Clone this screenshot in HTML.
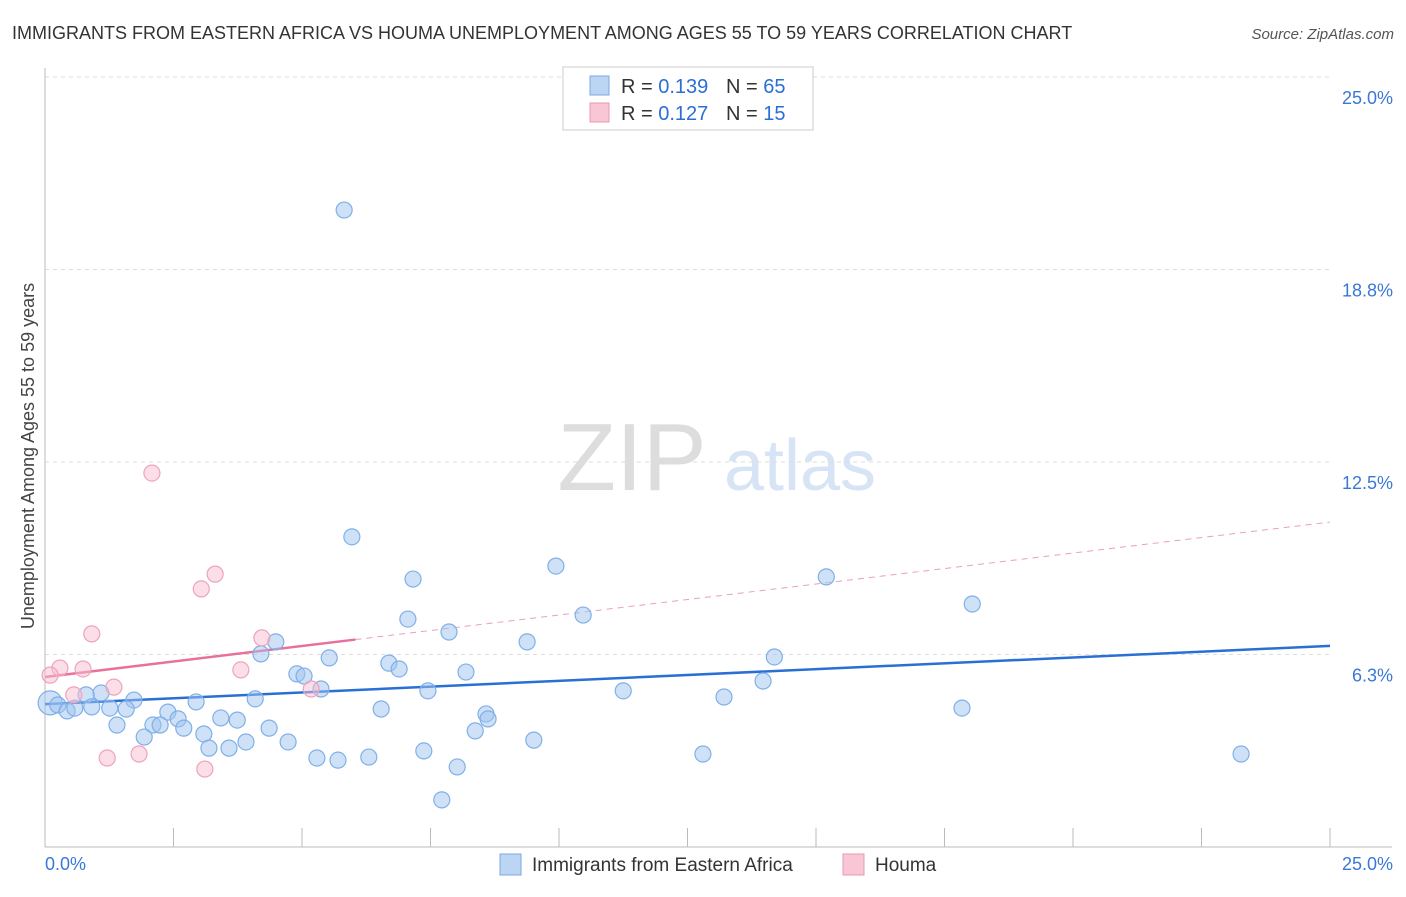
<!DOCTYPE html>
<html><head><meta charset="utf-8"><style>
body{margin:0;background:#fff;font-family:"Liberation Sans",sans-serif;}
svg text{font-family:"Liberation Sans",sans-serif;}
</style></head><body>
<svg id="chart" width="1406" height="892" xmlns="http://www.w3.org/2000/svg">
<text x="12" y="39" font-size="18" fill="#333">IMMIGRANTS FROM EASTERN AFRICA VS HOUMA UNEMPLOYMENT AMONG AGES 55 TO 59 YEARS CORRELATION CHART</text>
<text x="1394" y="39" font-size="15" fill="#555" text-anchor="end" font-style="italic">Source: ZipAtlas.com</text>
<g>
<text x="632" y="490" font-size="96" fill="#ddd" text-anchor="middle" font-family="Liberation Serif,serif">ZIP</text>
<text x="800" y="490" font-size="72" fill="#d6e4f5" text-anchor="middle">atlas</text>
</g>
<g id="grid"></g><g id="axes"></g><g id="trends"></g><g id="pts"></g>
<text transform="translate(34,456) rotate(-90)" font-size="18" fill="#444" text-anchor="middle">Unemployment Among Ages 55 to 59 years</text>
<g>
<rect x="563" y="67" width="250" height="63" fill="#fff" stroke="#ccc"/>
<rect x="590" y="76" width="19" height="19" fill="#bcd5f5" stroke="#7aa8e0"/>
<rect x="590" y="103" width="19" height="19" fill="#f9c6d5" stroke="#e899b0"/>
<text x="621" y="93" font-size="20" fill="#333">R = <tspan fill="#2a6fd6">0.139</tspan></text>
<text x="726" y="93" font-size="20" fill="#333">N = <tspan fill="#2a6fd6">65</tspan></text>
<text x="621" y="120" font-size="20" fill="#333">R = <tspan fill="#2a6fd6">0.127</tspan></text>
<text x="726" y="120" font-size="20" fill="#333">N = <tspan fill="#2a6fd6"> 15</tspan></text>
</g>
<g>
<rect x="500" y="854" width="21" height="21" fill="#bcd5f5" stroke="#7aa8e0"/>
<text x="532" y="871" font-size="19" fill="#333">Immigrants from Eastern Africa</text>
<rect x="843" y="854" width="21" height="21" fill="#f9c6d5" stroke="#e899b0"/>
<text x="875" y="871" font-size="19" fill="#333">Houma</text>
</g>
</svg>
<script>
const yTicks=[6.25,12.5,18.75,25];
const yTickLabels=["6.3%","12.5%","18.8%","25.0%"];
const xTicks=[0,2.5,5,7.5,10,12.5,15,17.5,20,22.5,25];
const blueX=[5.82,5.97,9.94,7.16,15.20,18.04,10.47,7.06,7.86,4.49,9.38,4.20,5.53,14.19,6.69,6.89,4.90,5.04,8.19,5.37,7.45,11.25,13.97,13.21,4.09,2.94,1.73,1.09,0.80,0.10,0.25,0.43,0.58,0.91,1.26,1.58,6.54,8.58,8.62,17.84,2.39,2.59,3.42,3.74,2.10,2.24,1.40,2.70,4.36,8.37,3.09,1.93,3.91,4.73,9.51,3.19,3.58,7.37,5.29,5.70,6.30,12.80,8.02,23.27,7.72];
const blueY=[20.68,10.07,9.12,8.70,8.77,7.89,7.53,7.40,6.98,6.66,6.66,6.27,6.14,6.17,5.97,5.78,5.62,5.55,5.68,5.13,5.07,5.07,5.39,4.87,4.81,4.71,4.77,5.00,4.94,4.68,4.61,4.42,4.51,4.55,4.51,4.48,4.48,4.32,4.16,4.51,4.38,4.16,4.19,4.12,3.96,3.96,3.96,3.86,3.86,3.77,3.67,3.57,3.41,3.41,3.47,3.21,3.21,3.12,2.89,2.82,2.92,3.02,2.60,3.02,1.53];
const pinkX=[2.08,3.31,3.04,0.91,4.22,3.81,0.29,0.74,0.10,1.34,5.18,0.56,1.21,1.83,3.11];
const pinkY=[12.14,8.86,8.38,6.92,6.79,5.75,5.81,5.78,5.58,5.19,5.13,4.94,2.89,3.02,2.53];
const blueTrend=[4.64,6.53];
const pinkTrend=[5.52,10.55];
const pinkSolidEnd=6.04;
const NS="http://www.w3.org/2000/svg";
const X=v=>45+v/25*1285, Y=v=>847-v*30.8;
function mk(tag,attrs,parent){const e=document.createElementNS(NS,tag);for(const k in attrs)e.setAttribute(k,attrs[k]);document.getElementById(parent).appendChild(e);return e;}
let g=mk('line',{x1:45,x2:1330,y1:Y(25),y2:Y(25),stroke:'#ddd','stroke-dasharray':'4,4'},'grid');


yTicks.forEach((t,i)=>{
 const l=mk('line',{x1:45,x2:1330,y1:Y(t),y2:Y(t),stroke:'#ddd','stroke-dasharray':'4,4'},'grid');
 
 
 const tx=mk('text',{x:1393,y:Y(t)+27,'font-size':18,fill:'#3a78d6','text-anchor':'end'},'axes');
 tx.textContent=yTickLabels[i];
 
 
});
let a=mk('line',{x1:45,x2:45,y1:68,y2:847,stroke:'#bbb'},'axes');


a=mk('line',{x1:45,x2:1392,y1:847,y2:847,stroke:'#bbb'},'axes');


xTicks.forEach(t=>{const l=mk('line',{x1:X(t),x2:X(t),y1:828,y2:847,stroke:'#bbb'},'axes');
 
 });
let t0=mk('text',{x:45,y:870,'font-size':18,fill:'#3a78d6'},'axes');t0.textContent='0.0%';


let t1=mk('text',{x:1393,y:870,'font-size':18,fill:'#3a78d6','text-anchor':'end'},'axes');t1.textContent='25.0%';


blueX.forEach((x,i)=>{const c=mk('circle',{cx:X(x),cy:Y(blueY[i]),r:(i==29?12:8),fill:'rgba(160,196,240,0.5)',stroke:'#7fb0e8','stroke-width':1.2},'pts');
 
 });
pinkX.forEach((x,i)=>{const c=mk('circle',{cx:X(x),cy:Y(pinkY[i]),r:8,fill:'rgba(248,190,208,0.5)',stroke:'#eea3bb','stroke-width':1.2},'pts');
 
 });
const pAt=x=>pinkTrend[0]+(pinkTrend[1]-pinkTrend[0])*x/25;
let tl=mk('line',{x1:X(0),y1:Y(blueTrend[0]),x2:X(25),y2:Y(blueTrend[1]),stroke:'#2a6fd6','stroke-width':2.5},'trends');


tl=mk('line',{x1:X(0),y1:Y(pAt(0)),x2:X(pinkSolidEnd),y2:Y(pAt(pinkSolidEnd)),stroke:'#e8709a','stroke-width':2.5},'trends');


tl=mk('line',{x1:X(pinkSolidEnd),y1:Y(pAt(pinkSolidEnd)),x2:X(25),y2:Y(pAt(25)),stroke:'#e8a0b8','stroke-width':1,'stroke-dasharray':'6,5'},'trends');


</script>
</body></html>
